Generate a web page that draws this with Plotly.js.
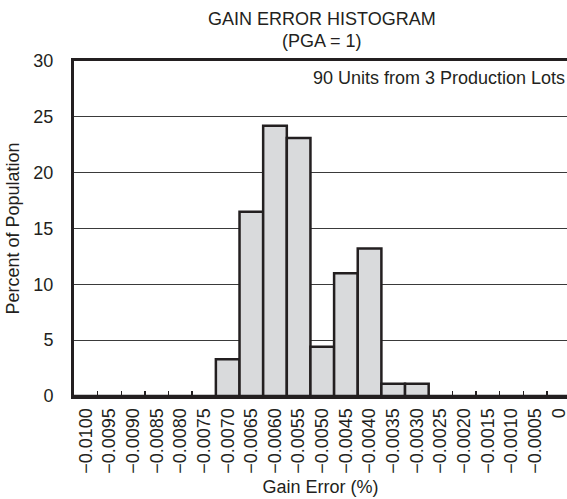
<!DOCTYPE html>
<html>
<head>
<meta charset="utf-8">
<script src="https://cdn.plot.ly/plotly-3.0.1.min.js"></script>
<style>html,body{margin:0;padding:0;background:#fff;}#chart{width:567px;height:499px;}</style>
</head>
<body>
<div id="chart"></div>
<script>
// Bin labels (Gain Error, %)
const binLabels = ["\u22120.0100","\u22120.0095","\u22120.0090","\u22120.0085","\u22120.0080","\u22120.0075",
  "\u22120.0070","\u22120.0065","\u22120.0060","\u22120.0055","\u22120.0050","\u22120.0045","\u22120.0040",
  "\u22120.0035","\u22120.0030","\u22120.0025","\u22120.0020","\u22120.0015","\u22120.0010","\u22120.0005","0"];
// Percent of population per bin
const percentValues = [0,0,0,0,0,0, 3.3,16.5,24.2,23.1,4.4,11.0,13.2,1.1,1.1, 0,0,0,0,0,0];
const yTicks = [0,5,10,15,20,25,30];
const titleLines = ["GAIN ERROR HISTOGRAM", "(PGA = 1)"];
const noteText = "90 Units from 3 Production Lots";

const ink = "#231f20";
const fontFam = "'Liberation Sans', Arial, sans-serif";
const fs = 18;

const trace = {
  type: "bar",
  x: binLabels,
  y: percentValues,
  marker: {color: "#d9dadc", line: {color: ink, width: 2.5}},
  hoverinfo: "x+y"
};

const layout = {
  width: 567, height: 499,
  margin: {l: 74, r: 0, t: 61, b: 103},
  paper_bgcolor: "#fff", plot_bgcolor: "#fff",
  font: {family: fontFam, size: fs, color: ink},
  bargap: 0,
  showlegend: false,
  xaxis: {
    type: "category",
    categoryorder: "array", categoryarray: binLabels,
    range: [-0.5, 20.35],
    tickangle: -90,
    tickson: "boundaries",
    ticks: "inside", ticklen: 5, tickwidth: 1.5, tickcolor: ink,
    showline: true, linecolor: ink, linewidth: 3, mirror: true,
    showgrid: false, zeroline: false,
    tickfont: {family: fontFam, size: fs, color: ink},
    ticklabelstandoff: 2,
    title: {text: "Gain Error (%)", font: {family: fontFam, size: fs, color: ink}, standoff: 8},
    fixedrange: true
  },
  yaxis: {
    range: [0, 30],
    tickvals: yTicks,
    ticktext: yTicks.map(String),
    ticks: "",
    showline: true, linecolor: ink, linewidth: 3,
    showgrid: true, gridcolor: "#3a3a3a", gridwidth: 1,
    zeroline: false,
    tickfont: {family: fontFam, size: fs, color: ink},
    ticklabelstandoff: 14,
    title: {text: "Percent of Population", font: {family: fontFam, size: fs, color: ink}, standoff: 10},
    fixedrange: true
  },
  annotations: [
    {text: titleLines[0], xref: "paper", yref: "paper", x: 0.503, y: 1.1254,
     xanchor: "center", yanchor: "middle", showarrow: false,
     font: {family: fontFam, size: fs, color: ink}},
    {text: titleLines[1], xref: "paper", yref: "paper", x: 0.503, y: 1.0597,
     xanchor: "center", yanchor: "middle", showarrow: false,
     font: {family: fontFam, size: fs, color: ink}},
    {text: noteText, xref: "paper", yref: "paper", x: 1.0, y: 0.948,
     xanchor: "right", yanchor: "middle", showarrow: false,
     font: {family: fontFam, size: fs, color: ink}}
  ]
};

Plotly.newPlot("chart", [trace], layout, {staticPlot: true, displayModeBar: false});
</script>
</body>
</html>
